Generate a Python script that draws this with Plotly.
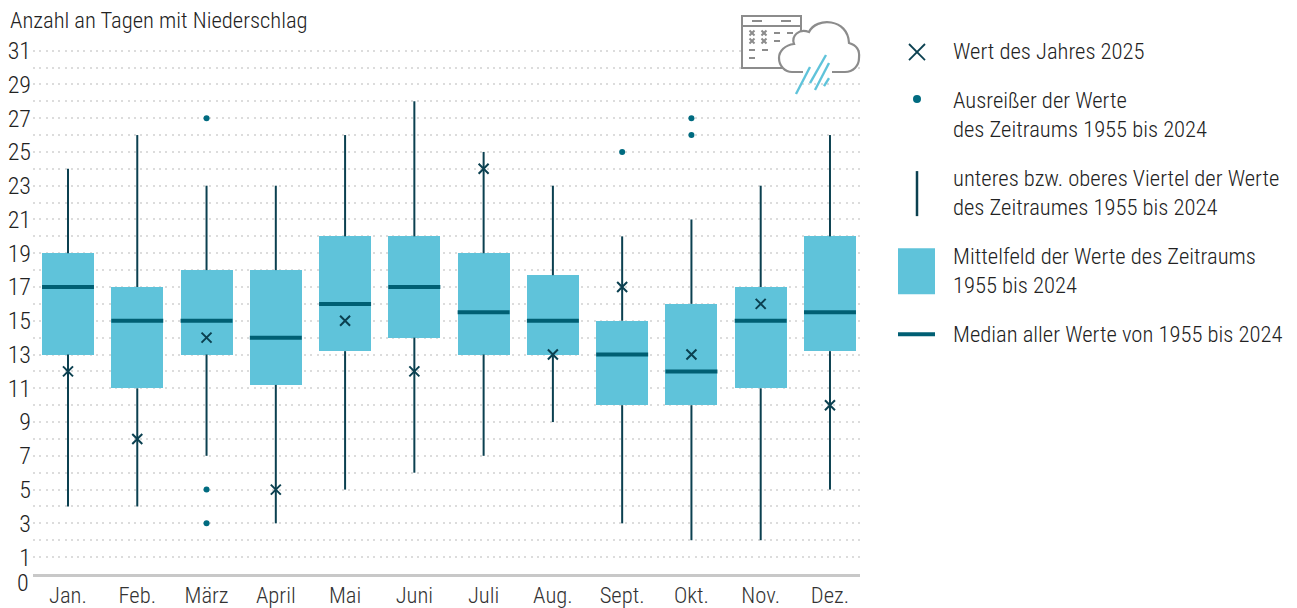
import plotly.graph_objects as go

W, H = 1297, 608
L, R, T, B = 33, 860, 42, 573.6

months = ["Jan.", "Feb.", "März", "April", "Mai", "Juni", "Juli", "Aug.", "Sept.", "Okt.", "Nov.", "Dez."]
low = [4, 4, 7, 3, 5, 6, 7, 9, 3, 2, 2, 5]
q1 = [13, 11, 13, 11.2, 13.2, 14, 13, 13, 10, 10, 11, 13.2]
median = [17, 15, 15, 14, 16, 17, 15.5, 15, 13, 12, 15, 15.5]
q3 = [19, 17, 18, 18, 20, 20, 19, 17.7, 15, 16, 17, 20]
high = [24, 26, 23, 23, 26, 28, 25, 23, 20, 21, 23, 26]
year2025 = [12, 8, 14, 5, 15, 12, 24, 13, 17, 13, 16, 10]
outlier_month = [2, 2, 2, 8, 9, 9]
outlier_value = [27, 5, 3, 25, 27, 26]
y_ticks = list(range(1, 32, 2))
grid_values = list(range(1, 32))

FONT = "Roboto Condensed, Roboto, sans-serif"
TEXT = "#222222"
BOX = "#5fc3da"
DARK = "#0b4050"
MED = "#005f73"
GREY = "#8c8c8c"
RAIN = "#5fc3da"
FS = 22.6
HALF = 0.375
LIGHT = dict(family=FONT, weight=300)
STEP = 69.27

idx = list(range(12))
fig = go.Figure()

fig.add_trace(go.Bar(x=idx, y=[b - a for a, b in zip(q1, q3)], base=q1, width=2 * HALF,
                     marker=dict(color=BOX, line_width=0), hoverinfo="skip"))

wx, wy = [], []
for i in idx:
    wx += [i, i, None, i, i, None]
    wy += [low[i], q1[i], None, q3[i], high[i], None]
fig.add_trace(go.Scatter(x=wx, y=wy, mode="lines", line=dict(color=DARK, width=2), hoverinfo="skip"))

mx, my = [], []
for i in idx:
    mx += [i - HALF, i + HALF, None]
    my += [median[i], median[i], None]
fig.add_trace(go.Scatter(x=mx, y=my, mode="lines", line=dict(color=MED, width=4), hoverinfo="skip"))

fig.add_trace(go.Scatter(x=outlier_month, y=outlier_value, mode="markers",
                         marker=dict(symbol="circle", size=6, color="#006b80"), hoverinfo="skip"))
fig.add_trace(go.Scatter(x=idx, y=year2025, mode="markers",
                         marker=dict(symbol="x-thin", size=10, line=dict(color=DARK, width=2)), hoverinfo="skip"))


def px(x):
    return (x - L) / (R - L)


def py(y):
    return (B - y) / (B - T)


shapes = []


def line(x0, y0, x1, y1, color, width):
    shapes.append(dict(type="line", xref="paper", yref="paper", x0=px(x0), y0=py(y0), x1=px(x1), y1=py(y1),
                       line=dict(color=color, width=width), layer="above"))


def path(tokens, fill, color, width):
    out = []
    for t in tokens:
        if isinstance(t, str):
            out.append(t)
        else:
            out.append(f"{px(t[0]):.5f},{py(t[1]):.5f}")
    shapes.append(dict(type="path", xref="paper", yref="paper", path=" ".join(out), fillcolor=fill,
                       line=dict(color=color, width=width), layer="above"))


# calendar icon
shapes.append(dict(type="rect", xref="paper", yref="paper", x0=px(742), x1=px(801), y0=py(68), y1=py(16),
                   fillcolor="white", line=dict(color=GREY, width=2), layer="above"))
line(742, 26, 801, 26, GREY, 2)
for a, b in [(752, 762), (781, 791)]:
    line(a, 21, b, 21, GREY, 2)
for cx, cy in [(752, 33), (764, 33), (752, 41), (764, 41)]:
    line(cx - 2.5, cy - 2.5, cx + 2.5, cy + 2.5, GREY, 2)
    line(cx - 2.5, cy + 2.5, cx + 2.5, cy - 2.5, GREY, 2)
for a, b, c in [(774, 780, 33), (787, 793, 33), (774, 780, 41), (749, 755, 50), (762, 768, 50), (749, 755, 58)]:
    line(a, c, b, c, GREY, 2)

# cloud icon: open outline, with a gap along the bottom where the rain falls
path(["M", (803, 72), "L", (792, 72), "C", (785, 72), (779, 66), (779, 58),
      "C", (779, 51), (785, 45), (794, 44), "C", (791, 36), (799, 28), (809, 32),
      "C", (816, 17), (848, 18), (849, 43), "C", (856, 45), (860, 50), (859, 58),
      "C", (859, 66), (853, 72), (845, 72), "L", (832, 72)], "white", GREY, 2.2)
for a in [(810, 67, 796, 94), (826, 55, 810, 83), (829, 63, 815, 90), (829, 78, 824, 86)]:
    line(*a, RAIN, 2.4)

# legend symbols
line(909, 44, 925, 60, DARK, 1.8)
line(909, 60, 925, 44, DARK, 1.8)
shapes.append(dict(type="circle", xref="paper", yref="paper", x0=px(913), x1=px(921), y0=py(103), y1=py(95),
                   fillcolor="#006b80", line_width=0))
line(917, 171, 917, 216, DARK, 2.5)
shapes.append(dict(type="rect", xref="paper", yref="paper", x0=px(898), x1=px(935), y0=py(294), y1=py(248),
                   fillcolor=BOX, line_width=0))
line(898, 334, 935, 334, MED, 4)

legend_lines = [
    ("Wert des Jahres 2025", 51),
    ("Ausreißer der Werte", 100),
    ("des Zeitraums 1955 bis 2024", 129),
    ("unteres bzw. oberes Viertel der Werte", 178),
    ("des Zeitraumes 1955 bis 2024", 207),
    ("Mittelfeld der Werte des Zeitraums", 256),
    ("1955 bis 2024", 285),
    ("Median aller Werte von 1955 bis 2024", 334),
]
ann = [dict(text=t, x=px(951), y=py(y), xref="paper", yref="paper", xanchor="left", yanchor="middle",
            showarrow=False, font=dict(size=FS, color=TEXT, **LIGHT)) for t, y in legend_lines]
ann.append(dict(text="Anzahl an Tagen mit Niederschlag", x=px(8), y=py(21), xref="paper", yref="paper",
                xanchor="left", yanchor="middle", showarrow=False, font=dict(size=FS, color=TEXT, **LIGHT)))
ann.append(dict(text="0", x=px(31), y=py(583), xref="paper", yref="paper", xanchor="right", yanchor="middle",
                showarrow=False, font=dict(size=24, color=TEXT, **LIGHT)))

fig.update_layout(
    width=W, height=H, autosize=False, showlegend=False, bargap=0,
    margin=dict(l=L, r=W - R, t=T, b=H - B, pad=0, autoexpand=False),
    plot_bgcolor="white", paper_bgcolor="white",
    xaxis=dict(range=[(L - 68) / STEP, (R - 68) / STEP], tickmode="array", tickvals=idx, ticktext=months,
               showgrid=False, zeroline=False, ticks="", ticklabelstandoff=-1, showline=True, linecolor="#c8c8c8",
               linewidth=2.5, tickfont=dict(size=FS, color="#333333", **LIGHT)),
    yaxis=dict(range=[0, (B - T) / 16.87], tickmode="array", tickvals=grid_values,
               ticktext=[str(v) if v in y_ticks else "" for v in grid_values], showgrid=True,
               gridcolor="#dcdcdc", griddash="2px,4.3px", gridwidth=2, zeroline=False, ticks="",
               tickfont=dict(size=24, color=TEXT, **LIGHT), ticklabelstandoff=1),
    shapes=shapes, annotations=ann,
)

fig.write_html("out.html", config={"displayModeBar": False},
               post_script="document.body.style.margin='0';document.body.style.overflow='hidden';"
                           "var s=document.createElement('style');s.textContent='svg text{font-stretch:75%}';"
                           "document.head.appendChild(s);")
